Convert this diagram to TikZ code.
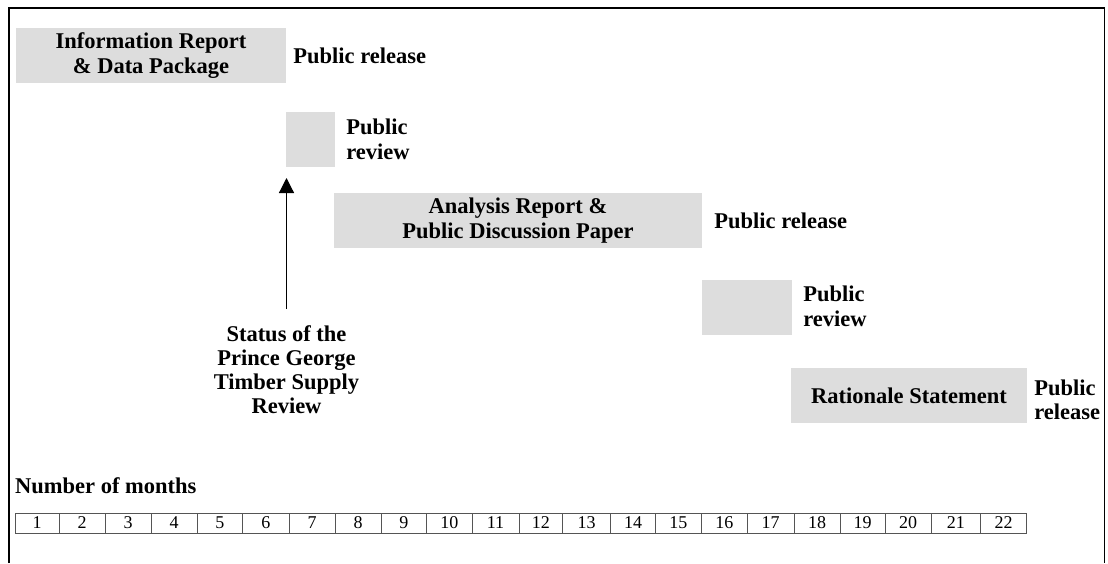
\documentclass[tikz,border=0pt]{standalone}
\usepackage{fontspec}
\setmainfont{Liberation Serif}
\usetikzlibrary{arrows.meta}
\definecolor{boxgray}{HTML}{DDDDDD}
\definecolor{scalegray}{HTML}{555555}
\tikzset{
  bar/.style={rectangle, fill=boxgray, draw=none, inner sep=0pt, align=center,
    font=\bfseries\fontsize{22.5}{24.5}\selectfont},
  lbl/.style={anchor=west, inner sep=0pt, align=left,
    font=\bfseries\fontsize{22.5}{24.5}\selectfont},
  cell/.style={rectangle, draw=scalegray, line width=0.9pt, inner sep=0pt,
    minimum height=20pt, font=\fontsize{18}{19}\selectfont},
  frame/.style={line width=1.4pt, black},
}
\begin{document}
\begin{tikzpicture}[x=1pt,y=-1pt]
\useasboundingbox (0,0) rectangle (1108,563);
% frame (no bottom edge)
\draw[frame] (9,563) -- (9,8) -- (1104.5,8) -- (1104.5,563);

% bars
\node[bar, minimum width=270pt, minimum height=55pt] (b1) at (151,55.5) {Information Report\\\& Data Package};
\node[bar, minimum width=49pt, minimum height=55pt] (b2) at (310.5,139.5) {};
\node[bar, minimum width=368pt, minimum height=55pt] (b3) at (518,220.5) {Analysis Report \&\\Public Discussion Paper};
\node[bar, minimum width=90pt, minimum height=55pt] (b4) at (747,307.5) {};
\node[bar, minimum width=236pt, minimum height=55pt] (b5) at (909,395.5) {Rationale Statement};

% labels
\node[lbl] (l1) at ([xshift=7pt]b1.east) {Public release};
\node[lbl] (l2) at ([xshift=11pt]b2.east) {Public\\review};
\node[lbl] (l3) at ([xshift=12pt]b3.east) {Public release};
\node[lbl] (l4) at ([xshift=11pt,yshift=1pt]b4.east) {Public\\review};
\node[lbl] (l5) at ([xshift=7pt,yshift=-4.5pt]b5.east) {Public\\release};

% status + arrow
\node[anchor=north, inner sep=0pt, align=center, font=\bfseries\fontsize{22.5}{24.3}\selectfont] (st) at (286.5,325) {Status of the\\Prince George\\Timber Supply\\Review};
\coordinate (st0) at (286.5,309);
\coordinate (tip) at (286.5,178);
\draw[line width=1.2pt, -{Triangle[length=15pt,width=15pt]}] (st0) -- (tip);

% scale
\node[lbl] (nm) at (15,486) {Number of months};
\def\bounds{15,59.3,105,151,197,242.6,289,335,381,426.5,472,519,562.5,610.8,655.4,701.5,747,794,840,885,931,980.7,1026.7}
\foreach \i [count=\n from 0] in \bounds {\expandafter\xdef\csname bd\n\endcsname{\i}}
\foreach \k in {1,...,22}{
  \pgfmathsetmacro{\xa}{\csname bd\the\numexpr\k-1\endcsname}
  \pgfmathsetmacro{\xb}{\csname bd\k\endcsname}
  \pgfmathsetmacro{\xc}{(\xa+\xb)/2}
  \pgfmathsetmacro{\cwid}{\xb-\xa}
  \node[cell, minimum width=\cwid pt] (c\k) at (\xc,523) {\k};
}
\end{tikzpicture}
\end{document}
